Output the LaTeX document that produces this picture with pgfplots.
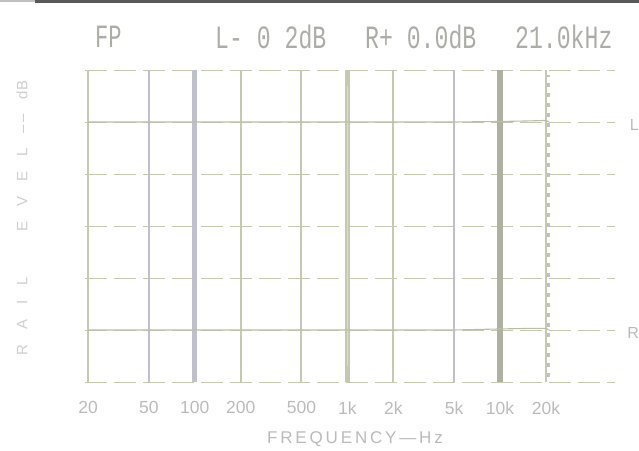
\documentclass[border=0pt]{standalone}
\usepackage{pgfplots}
\pgfplotsset{compat=1.18}
\usepackage{fontspec}
\setmainfont{Liberation Sans}
\newfontfamily\lcd{Liberation Mono}
\definecolor{gridc}{HTML}{C6C9B0}
\definecolor{gridb}{HTML}{BEC1CC}
\definecolor{thickc}{HTML}{AEB1A2}
\definecolor{txt}{HTML}{BBBBBB}
\definecolor{hdr}{HTML}{ADADA8}
\definecolor{curve}{HTML}{BABDA8}

\begin{document}
\begin{tikzpicture}[x=1pt,y=1pt]
\path[use as bounding box] (0,0) rectangle (639,450);
\fill[black!65] (35,446.5) rectangle (639,450);
\fill[black!25] (0,447.5) rectangle (35,450);
\begin{axis}[
  at={(85pt,68pt)}, anchor=south west,
  scale only axis, width=530pt, height=312pt,
  xmode=log, xmin=19.1, xmax=56700, ymin=0, ymax=6,
  axis line style={draw=none},
  major tick length=0pt,
  xtick={20,50,100,200,500,1000,2000,5000,10000,20000},
  xticklabels={20,50,100,200,500,1k,2k,5k,10k,20k},
  ytick={0,1,2,3,4,5,6},
  yticklabels={},
  xmajorgrids, ymajorgrids,
  x grid style={gridc, line width=2pt},
  y grid style={gridc, line width=0.9pt, dash pattern=on 22pt off 7pt},
  xticklabel style={font=\fontsize{17.5}{17.5}\selectfont, text=txt, yshift=-16pt},
  xlabel={F\,R\,E\,Q\,U\,E\,N\,C\,Y\,---\,H\,z},
  xlabel style={font=\fontsize{17}{17}\selectfont, text=txt, yshift=-10pt, xshift=5pt},
  clip=false,
]
% emphasised vertical bars of the display
\addplot[gridb, line width=4.5pt] coordinates {(100,0) (100,6)};
\addplot[gridb, line width=2.2pt] coordinates {(50,0) (50,6)};
\addplot[gridc, line width=4.5pt] coordinates {(1000,0) (1000,6)};
\addplot[gridb!60!white, line width=0.6pt] coordinates {(1000,0.3) (1000,5.7)};
\addplot[gridb, line width=2.2pt] coordinates {(5000,0) (5000,6)};
\addplot[thickc, line width=6pt] coordinates {(10000,0) (10000,6)};
\addplot[gridc, line width=2.4pt] coordinates {(20000,0) (20000,6)};
\addplot[gridb, line width=3pt, dash pattern=on 4pt off 6pt, xshift=3pt] coordinates {(20000,0.1) (20000,5.9)};
% L and R response traces
\addplot[curve, line width=1.1pt] coordinates {(20,5) (1000,5) (5000,5) (10000,5.01) (15000,5.02) (20000,5.03) (21000,5.0)};
\addplot[curve, line width=1.1pt] coordinates {(20,1) (1000,1) (5000,1) (10000,1.02) (15000,1.03) (20000,1.03) (21000,1.0)};
\end{axis}
% header line of the analyser
\node[anchor=west, text=hdr, font=\lcd\fontsize{26}{26}\selectfont, inner sep=0pt] at (95,413) {\scalebox{0.85}[1.25]{FP}};
\node[anchor=west, text=hdr, font=\lcd\fontsize{26}{26}\selectfont, inner sep=0pt] at (215,413) {\scalebox{0.89}[1.25]{L- 0 2dB}};
\node[anchor=west, text=hdr, font=\lcd\fontsize{26}{26}\selectfont, inner sep=0pt] at (365,413) {\scalebox{0.89}[1.25]{R+ 0.0dB}};
\node[anchor=west, text=hdr, font=\lcd\fontsize{26}{26}\selectfont, inner sep=0pt] at (515,413) {\scalebox{0.89}[1.25]{21.0kHz}};
% side labels
\node[text=txt, font=\fontsize{16}{16}\selectfont, anchor=east, inner sep=0pt] at (639,325) {L};
\node[text=txt, font=\fontsize{16}{16}\selectfont, anchor=east, inner sep=0pt] at (639,117) {R};
\node[text=txt!70, font=\fontsize{15}{15}\selectfont, rotate=90] at (22,232) {R\quad A\quad I\quad L\qquad\quad E\quad V\quad E\quad L\quad --\,--\quad dB};
\end{tikzpicture}
\end{document}
